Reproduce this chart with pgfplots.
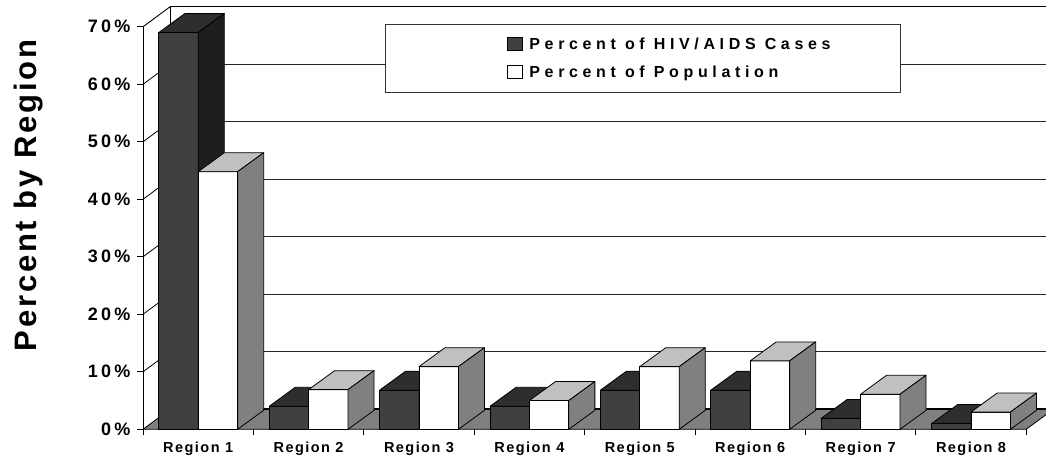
\documentclass[border=0pt]{standalone}
\usepackage{pgfplots}
\usepackage{pgfplotstable}
\pgfplotsset{compat=1.18}
\usepackage{fontspec}
\setmainfont{Liberation Sans}
\newfontfamily\tickfont[LetterSpace=18]{Liberation Sans}
\newfontfamily\regfont[LetterSpace=10]{Liberation Sans}
\newfontfamily\legfont[LetterSpace=29]{Liberation Sans}
\newfontfamily\labfont[LetterSpace=9]{Liberation Sans}

\definecolor{darkfront}{HTML}{404040}
\definecolor{darktop}{HTML}{2E2E2E}
\definecolor{darkside}{HTML}{1E1E1E}
\definecolor{whitetop}{HTML}{C0C0C0}
\definecolor{whiteside}{HTML}{808080}
\definecolor{floorgray}{HTML}{808080}

\pgfplotstableread{
cat hiv pop
0 69.0 44.8
1 4.0 6.9
2 6.8 10.9
3 4.0 5.0
4 6.8 10.9
5 6.8 11.9
6 1.9 6.1
7 1.0 3.0
}\datatable

\def\bdx{0.236}\def\bdy{3.3}
\def\bw{0.357}

\newcommand\drawbar[6]{%
  \pgfmathsetmacro\xa{#1}\pgfmathsetmacro\xb{#2}%
  \pgfmathsetmacro\xc{#1+\bdx}\pgfmathsetmacro\xd{#2+\bdx}%
  \pgfmathsetmacro\yv{#3}\pgfmathsetmacro\yt{#3+\bdy}%
  \edef\doplots{%
    \noexpand\addplot[fill=#4, draw=black, line width=0.8pt, line join=round, forget plot] coordinates {(\xa,0) (\xb,0) (\xb,\yv) (\xa,\yv)} -- cycle;%
    \noexpand\addplot[fill=#5, draw=black, line width=0.8pt, line join=round, forget plot] coordinates {(\xa,\yv) (\xb,\yv) (\xd,\yt) (\xc,\yt)} -- cycle;%
    \noexpand\addplot[fill=#6, draw=black, line width=0.8pt, line join=round, forget plot] coordinates {(\xb,0) (\xd,\bdy) (\xd,\yt) (\xb,\yv)} -- cycle;%
  }\doplots
}

\begin{document}
\begin{tikzpicture}
\useasboundingbox (-143pt,-31.7pt) rectangle (903pt,429.3pt);
\begin{axis}[
  at={(0,0)}, anchor=south west,
  x=110.4pt, y=5.75pt,
  xmin=-0.5, xmax=7.68, ymin=0, ymax=74,
  clip=false,
  axis x line*=bottom, axis y line*=left,
  axis line style={draw=none},
  tick style={draw=black, line width=0.8pt},
  tick align=outside,
  major tick length=6pt,
  xtick={-0.5,0.5,1.5,2.5,3.5,4.5,5.5,6.5,7.5}, xticklabels={},
  extra x ticks={0,1,2,3,4,5,6,7},
  extra x tick labels={Region 1,Region 2,Region 3,Region 4,Region 5,Region 6,Region 7,Region 8},
  extra x tick style={major tick length=0pt, tick label style={font=\regfont\bfseries\fontsize{14.5}{16}\selectfont, yshift=-9.5pt}},
  ytick={0,10,20,30,40,50,60,70},
  yticklabels={0\%,10\%,20\%,30\%,40\%,50\%,60\%,70\%},
  yticklabel style={font=\tickfont\bfseries\fontsize{18}{20}\selectfont, xshift=-3pt},
  legend style={at={(rel axis cs:0.4031,0.926)}, anchor=north west, draw=none, fill=none, inner sep=0pt, row sep=11pt,
    font=\legfont\bfseries\fontsize{16}{18}\selectfont, cells={anchor=west}},
  legend image code/.code={\draw[#1] (0pt,-6.5pt) rectangle (15pt,6.5pt); \path[draw=none,fill=none] (0pt,0pt) rectangle (20pt,0.1pt);},
]
% back wall gridlines
\draw[line width=0.8pt, black!85] (axis cs:-0.255,13.48) -- (axis cs:7.68,13.48);
\draw[line width=0.8pt, black!85] (axis cs:-0.255,23.48) -- (axis cs:7.68,23.48);
\draw[line width=0.8pt, black!85] (axis cs:-0.255,33.48) -- (axis cs:7.68,33.48);
\draw[line width=0.8pt, black!85] (axis cs:-0.255,43.48) -- (axis cs:7.68,43.48);
\draw[line width=0.8pt, black!85] (axis cs:-0.255,53.48) -- (axis cs:7.68,53.48);
\draw[line width=0.8pt, black!85] (axis cs:-0.255,63.48) -- (axis cs:7.68,63.48);
\draw[line width=0.9pt, black] (axis cs:-0.255,73.48) -- (axis cs:7.68,73.48);
\draw[line width=0.9pt, black] (axis cs:-0.255,3.48) -- (axis cs:-0.255,73.48);
% left wall diagonals
\draw[line width=0.8pt] (axis cs:-0.5,10) -- (axis cs:-0.255,13.48);
\draw[line width=0.8pt] (axis cs:-0.5,20) -- (axis cs:-0.255,23.48);
\draw[line width=0.8pt] (axis cs:-0.5,30) -- (axis cs:-0.255,33.48);
\draw[line width=0.8pt] (axis cs:-0.5,40) -- (axis cs:-0.255,43.48);
\draw[line width=0.8pt] (axis cs:-0.5,50) -- (axis cs:-0.255,53.48);
\draw[line width=0.8pt] (axis cs:-0.5,60) -- (axis cs:-0.255,63.48);
\draw[line width=0.9pt] (axis cs:-0.5,70) -- (axis cs:-0.255,73.48);
% floor
\filldraw[fill=floorgray, draw=black, line width=0.8pt] (axis cs:-0.5,0) -- (axis cs:7.5,0) -- (axis cs:7.745,3.48) -- (axis cs:-0.255,3.48) -- cycle;
\draw[line width=1.8pt] (axis cs:-0.255,3.48) -- (axis cs:7.745,3.48);
% legend box
\filldraw[fill=white, draw=black!80, line width=0.9pt] (axis cs:1.692,58.66) rectangle (axis cs:6.357,70.49);
% bars
\pgfplotsinvokeforeach{0,...,7}{
  \pgfplotstablegetelem{#1}{hiv}\of\datatable \let\vh\pgfplotsretval
  \pgfplotstablegetelem{#1}{pop}\of\datatable \let\vp\pgfplotsretval
  \drawbar{#1-\bw}{#1}{\vh}{darkfront}{darktop}{darkside}
  \drawbar{#1}{#1+\bw}{\vp}{white}{whitetop}{whiteside}
}
% front edge of left wall
\draw[line width=0.9pt] (axis cs:-0.5,0) -- (axis cs:-0.5,70);
\addlegendimage{fill=darkfront, draw=black}
\addlegendentry{Percent of HIV/AIDS Cases}
\addlegendimage{fill=white, draw=black}
\addlegendentry{Percent of Population}
\node[rotate=90, anchor=base, font=\labfont\bfseries\fontsize{31}{36}\selectfont] at (axis cs:-1.469,40.66) {Percent by Region};
\end{axis}
\end{tikzpicture}
\end{document}
